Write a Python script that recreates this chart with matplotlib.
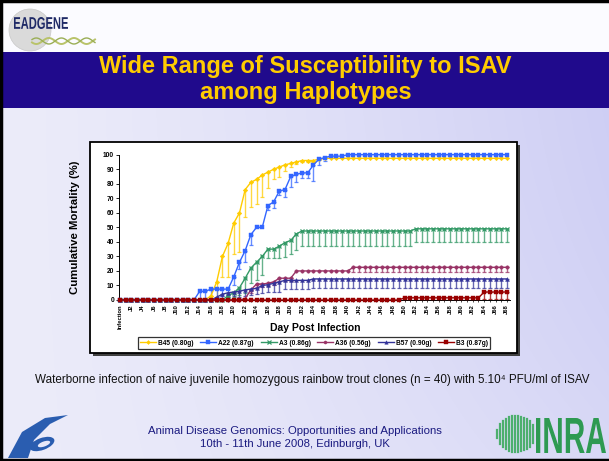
import numpy as np
import matplotlib
matplotlib.use('Agg')
import matplotlib.pyplot as plt
from matplotlib.patches import Rectangle, Circle, Ellipse, Polygon, PathPatch
from matplotlib.textpath import TextPath
from matplotlib.font_manager import FontProperties
from matplotlib.transforms import Affine2D

# ---------------- data ----------------
days = list(range(69))
tick_labels = ['Infection'] + ['J%d' % d for d in range(2, 69, 2)]
series_names = ['B45 (0.80g)', 'A22 (0.87g)', 'A3 (0.86g)',
                'A36 (0.56g)', 'B57 (0.90g)', 'B3 (0.87g)']

b45 = [0, 0, 0, 0, 0, 0, 0, 0, 0, 0,
       0, 0, 0, 0, 0, 0, 3, 12.5, 30, 39,
       53, 60, 76, 81, 83, 86, 88, 90, 91.5, 93,
       94, 95, 96, 96, 96, 97, 97.5, 97.5, 97.5, 97.5,
       97.5, 97.5, 97.5, 97.5, 97.5, 97.5, 97.5, 97.5, 97.5, 97.5,
       97.5, 97.5, 97.5, 97.5, 97.5, 97.5, 97.5, 97.5, 97.5, 97.5,
       97.5, 97.5, 97.5, 97.5, 97.5, 97.5, 97.5, 97.5, 97.5]
b45_err = [0, 0, 0, 0, 0, 0, 0, 0, 0, 0,
           0, 0, 0, 0, 0, 0, 3, 12, 14, 23,
           21, 27, 19, 17, 17, 15, 11, 7, 7, 4,
           2.5, 1.5, 1, 1, 1, 0.5, 0, 0, 0, 0,
           0, 0, 0, 0, 0, 0, 0, 0, 0, 0,
           0, 0, 0, 0, 0, 0, 0, 0, 0, 0,
           0, 0, 0, 0, 0, 0, 0, 0, 0]

a22 = [0, 0, 0, 0, 0, 0, 0, 0, 0, 0,
       0, 0, 0, 0, 6, 6, 7.5, 7.5, 7.5, 7.5,
       16, 26, 34, 45, 50, 50, 65, 67.5, 75, 76,
       85, 86.5, 87.5, 87.5, 93, 97, 98, 99, 99, 99,
       100, 100, 100, 100, 100, 100, 100, 100, 100, 100,
       100, 100, 100, 100, 100, 100, 100, 100, 100, 100,
       100, 100, 100, 100, 100, 100, 100, 100, 100]
a22_err = [0, 0, 0, 0, 0, 0, 0, 0, 0, 0,
           0, 0, 0, 0, 6, 6, 7, 6, 5, 4,
           6, 5, 8, 7, 0, 0, 3, 4, 3, 5,
           7, 5, 3.5, 3.5, 11, 4, 2, 0, 0, 0,
           0, 0, 0, 0, 0, 0, 0, 0, 0, 0,
           0, 0, 0, 0, 0, 0, 0, 0, 0, 0,
           0, 0, 0, 0, 0, 0, 0, 0, 0]

a3 = [0, 0, 0, 0, 0, 0, 0, 0, 0, 0,
      0, 0, 0, 0, 0, 0, 0, 0, 0, 3,
      5, 8.5, 15, 22, 26, 30, 35, 35, 37, 39.5,
      41, 45.5, 47.5, 47.5, 47.5, 47.5, 47.5, 47.5, 47.5, 47.5,
      47.5, 47.5, 47.5, 47.5, 47.5, 47.5, 47.5, 47.5, 47.5, 47.5,
      47.5, 47.5, 49, 49, 49, 49, 49, 49, 49, 49,
      49, 49, 49, 49, 49, 49, 49, 49, 49]
a3_err = [0, 0, 0, 0, 0, 0, 0, 0, 0, 0,
          0, 0, 0, 0, 0, 0, 0, 0, 0, 2,
          3, 5, 10, 10, 12, 13, 6, 6, 8, 10,
          9, 11, 10, 10.5, 10.5, 10.5, 10.5, 10.5, 10.5, 10.5,
          10.5, 10.5, 10.5, 10.5, 10.5, 10.5, 10.5, 10.5, 10.5, 10.5,
          10.5, 10.5, 9, 9, 9, 9, 9, 9, 9, 9,
          9, 9, 9, 9, 9, 9, 9, 9, 9]

a36 = [0, 0, 0, 0, 0, 0, 0, 0, 0, 0,
       0, 0, 0, 0, 0, 0, 0, 0, 0, 0,
       0, 0, 1, 7, 11, 11, 11.5, 12.5, 15, 15,
       15, 20, 20, 20, 20, 20, 20, 20, 20, 20,
       20, 22.5, 22.5, 22.5, 22.5, 22.5, 22.5, 22.5, 22.5, 22.5,
       22.5, 22.5, 22.5, 22.5, 22.5, 22.5, 22.5, 22.5, 22.5, 22.5,
       22.5, 22.5, 22.5, 22.5, 22.5, 22.5, 22.5, 22.5, 22.5]
a36_err = [0, 0, 0, 0, 0, 0, 0, 0, 0, 0,
           0, 0, 0, 0, 0, 0, 0, 0, 0, 0,
           0, 0, 0, 2, 2, 2, 2, 2, 2, 2,
           2, 0, 0, 0, 0, 0, 0, 0, 0, 0,
           0, 3.5, 3.5, 3.5, 3.5, 3.5, 3.5, 3.5, 3.5, 3.5,
           3.5, 3.5, 3.5, 3.5, 3.5, 3.5, 3.5, 3.5, 3.5, 3.5,
           3.5, 3.5, 3.5, 3.5, 3.5, 3.5, 3.5, 3.5, 3.5]

b57 = [0, 0, 0, 0, 0, 0, 0, 0, 0, 0,
       0, 0, 0, 0, 0, 0, 0, 2, 4, 5,
       5.5, 6, 7, 7.5, 8, 10, 10.5, 11.5, 12.5, 13.5,
       13.5, 13.5, 13.5, 13.5, 14.5, 14.5, 14.5, 14.5, 14.5, 14.5,
       14.5, 14.5, 14.5, 14.5, 14.5, 14.5, 14.5, 14.5, 14.5, 14.5,
       14.5, 14.5, 14.5, 14.5, 14.5, 14.5, 14.5, 14.5, 14.5, 14.5,
       14.5, 14.5, 14.5, 14.5, 14.5, 14.5, 14.5, 14.5, 14.5]
b57_err = [0, 0, 0, 0, 0, 0, 0, 0, 0, 0,
           0, 0, 0, 0, 0, 0, 0, 2, 3, 3,
           3, 4, 4, 4, 4, 5, 5, 6, 7, 6,
           6, 6, 6, 6, 6.5, 6.5, 6.5, 6.5, 6.5, 6.5,
           6.5, 6.5, 6.5, 6.5, 6.5, 6.5, 6.5, 6.5, 6.5, 6.5,
           6.5, 6.5, 6.5, 6.5, 6.5, 6.5, 6.5, 6.5, 6.5, 6.5,
           6.5, 6.5, 6.5, 6.5, 6.5, 6.5, 6.5, 6.5, 6.5]

b3 = [0, 0, 0, 0, 0, 0, 0, 0, 0, 0,
      0, 0, 0, 0, 0, 0, 0, 0, 0, 0,
      0, 0, 0, 0, 0, 0, 0, 0, 0, 0,
      0, 0, 0, 0, 0, 0, 0, 0, 0, 0,
      0, 0, 0, 0, 0, 0, 0, 0, 0, 0,
      1.5, 1.5, 1.5, 1.5, 1.5, 1.5, 1.5, 1.5, 1.5, 1.5,
      1.5, 1.5, 1.5, 1.5, 5.5, 5.5, 5.5, 5.5, 5.5]
b3_err = [0, 0, 0, 0, 0, 0, 0, 0, 0, 0,
          0, 0, 0, 0, 0, 0, 0, 0, 0, 0,
          0, 0, 0, 0, 0, 0, 0, 0, 0, 0,
          0, 0, 0, 0, 0, 0, 0, 0, 0, 0,
          0, 0, 0, 0, 0, 0, 0, 0, 0, 0,
          0, 0, 0, 0, 0, 0, 0, 0, 0, 0,
          0, 0, 0, 0, 4.5, 4.5, 4.5, 4.5, 4.5]

values = [b45, a22, a3, a36, b57, b3]
errors = [b45_err, a22_err, a3_err, a36_err, b57_err, b3_err]
colors = ['#FFCC00', '#3366FF', '#339966', '#993366', '#333399', '#990000']
markers = ['D', 's', 'x', 'o', '^', 's']
msizes = [2.3, 2.5, 2.9, 2.5, 2.8, 2.5]

title_lines = ['Wide Range of Susceptibility to ISAV', 'among Haplotypes']
caption = 'Waterborne infection of naive juvenile homozygous rainbow trout clones (n = 40) with 5.10\u2074 PFU/ml of ISAV'
footer = ['Animal Disease Genomics: Opportunities and Applications',
          '10th - 11th June 2008, Edinburgh, UK']

plt.rcParams['font.family'] = ['Liberation Sans', 'DejaVu Sans']

W, H = 609, 461
fig = plt.figure(figsize=(W / 100, H / 100), dpi=100)

# ---------------- slide background ----------------
bg = fig.add_axes([0, 0, 1, 1])
bg.set_xlim(0, W)
bg.set_ylim(H, 0)
bg.axis('off')
xx = np.linspace(0, 1, W)[None, :]
yy = np.linspace(0, 1, H)[:, None]
left_c = np.array([236, 236, 250]) / 255
right_c = np.array([206, 206, 244]) / 255
t = (xx ** 1.3) * (1 - 0.35 * yy ** 2)
grad = left_c[None, None, :] * (1 - t[..., None]) + right_c[None, None, :] * t[..., None]
grad = np.broadcast_to(grad, (H, W, 3))
bg.imshow(grad, extent=[0, W, H, 0], aspect='auto', zorder=0)

# header
bg.add_patch(Rectangle((0, 0), W, 52, fc='#FBFBFF', ec='none', zorder=1))
bg.add_patch(Rectangle((0, 52), W, 56, fc='#200A8C', ec='none', zorder=1))
bg.text(W / 2 + 1, 66, title_lines[0], color='#FFCC00', fontsize=17,
        fontweight='bold', ha='center', va='center', zorder=2)
bg.text(W / 2 + 1, 93, title_lines[1], color='#FFCC00', fontsize=17,
        fontweight='bold', ha='center', va='center', zorder=2)

# slide border
bg.plot([1, 1], [0, H], color='black', lw=2.5, zorder=5)
bg.plot([0, W], [1, 1], color='black', lw=2.5, zorder=5)
bg.plot([0, W], [H - 1, H - 1], color='black', lw=2.5, zorder=5)


def squeezed_text(s, x0, y0, width, height, color, z=3):
    tp = TextPath((0, 0), s, size=40, prop=FontProperties(family='Liberation Sans', weight='bold'))
    ext = tp.get_extents()
    tr = (Affine2D().translate(-ext.x0, -ext.y0)
          .scale(width / ext.width, -height / ext.height)
          .translate(x0, y0 + height))
    bg.add_patch(PathPatch(tr.transform_path(tp), fc=color, ec='none', zorder=z))


# EADGENE logo
bg.add_patch(Circle((30, 30), 21, fc='#DADADA', ec='#C8C8C8', lw=0.5, zorder=2))
squeezed_text('EADGENE', 14, 17, 54, 12, '#1F2A66')
wx = np.linspace(32, 95, 80)
bg.plot(wx, 41 + 3 * np.sin((wx - 30) / 4), color='#B9C36A', lw=1.4, zorder=3)
bg.plot(wx, 41 - 3 * np.sin((wx - 30) / 4), color='#9AAE55', lw=1.0, zorder=3)

# FP6 logo
bg.add_patch(Polygon([[8, 458], [22, 432], [45, 418], [68, 415], [50, 424],
                      [34, 440], [28, 458]], closed=True, fc='#2A5DB0', ec='none', zorder=2))
bg.add_patch(Ellipse((42, 444), 26, 12, angle=-20, fc='#2A5DB0', ec='none', zorder=2))
bg.add_patch(Ellipse((44, 444), 13, 5, angle=-20, fc='#E8E8F8', ec='none', zorder=3))

# INRA logo
for sx in np.arange(497, 535, 3):
    hh = 18 * np.sqrt(max(0.0, 1 - ((sx - 516) / 19.5) ** 2))
    bg.plot([sx, sx], [434 - hh, 434 + hh], color='#4DAF6E', lw=1.6, zorder=3)
squeezed_text('INRA', 536, 418, 70, 35, '#2E9A52')

# caption / footer
bg.text(312, 380, caption, fontsize=8.4, color='#111111', ha='center', va='center', zorder=3)
bg.text(295, 431, footer[0], fontsize=8.2, color='#1A1A80', ha='center', va='center', zorder=3)
bg.text(295, 444, footer[1], fontsize=8.2, color='#1A1A80', ha='center', va='center', zorder=3)

# chart box with shadow
bg.add_patch(Rectangle((93, 145), 427, 211, fc='#404040', ec='none', zorder=2))
bg.add_patch(Rectangle((90, 142), 427, 211, fc='white', ec='black', lw=1.3, zorder=3))

# ---------------- chart ----------------
x0_px = 120.0
px_per_day = 5.69
xl = (-0.2, 68.5)
ax_left = x0_px + xl[0] * px_per_day
ax_right = x0_px + xl[1] * px_per_day
y0_px, y100_px = 300.0, 154.7
ax = fig.add_axes([ax_left / W, (H - y0_px) / H, (ax_right - ax_left) / W, (y0_px - y100_px) / H])
ax.set_zorder(5)
ax.patch.set_alpha(0)

x = np.array(days)
handles = []
for name, vals, errs, c, m, ms in zip(series_names, values, errors, colors, markers, msizes):
    v = np.array(vals, dtype=float)
    e = np.array(errs, dtype=float)
    mask = e > 0
    if mask.any():
        ax.errorbar(x[mask], v[mask], yerr=[e[mask], np.zeros(mask.sum())], fmt='none',
                    ecolor=c, elinewidth=1.0, capsize=1.7, capthick=0.9, alpha=0.75,
                    clip_on=False, zorder=2)
    h, = ax.plot(x, v, color=c, lw=1.0, marker=m, ms=ms, mew=0.9 if m == 'x' else 0.3,
                 mec=c, mfc=c, clip_on=False, zorder=3, label=name)
    handles.append(h)

ax.set_xlim(*xl)
ax.set_ylim(0, 100)
ax.set_yticks(range(0, 101, 10))
ax.set_xticks(days)
lab = []
k = 0
for d in days:
    if d % 2 == 0:
        lab.append(tick_labels[k])
        k += 1
    else:
        lab.append('')
ax.set_xticklabels(lab, rotation=90, fontsize=4.2, fontweight='bold')
for tl in ax.get_yticklabels():
    tl.set_fontsize(4.8)
    tl.set_fontweight('bold')
ax.tick_params(axis='x', length=1.5, width=0.5, pad=1.5)
ax.tick_params(axis='y', length=2, width=0.6, pad=1.5)
for s in ['top', 'right']:
    ax.spines[s].set_visible(False)
for s in ['left', 'bottom']:
    ax.spines[s].set_linewidth(0.7)
ax.set_ylabel('Cumulative Mortality (%)', fontsize=8.2, fontweight='bold')
ax.yaxis.set_label_coords(-(119 - 80) / (ax_right - ax_left), 0.5)
ax.set_xlabel('Day Post Infection', fontsize=7.5, fontweight='bold')
ax.xaxis.set_label_coords((315 - ax_left) / (ax_right - ax_left), -(323 - y0_px) / (y0_px - y100_px))

leg = fig.legend(handles=handles, loc='center', bbox_to_anchor=(314 / W, 1 - 343 / H),
                 ncol=6, frameon=True, fancybox=False, edgecolor='black',
                 prop={'size': 4.8, 'weight': 'bold'}, handlelength=2.4, handletextpad=0.3,
                 columnspacing=1.0, borderpad=0.4, markerscale=0.9)
leg.get_frame().set_linewidth(0.9)
leg.set_zorder(6)

fig.savefig('out.png', dpi=100)
